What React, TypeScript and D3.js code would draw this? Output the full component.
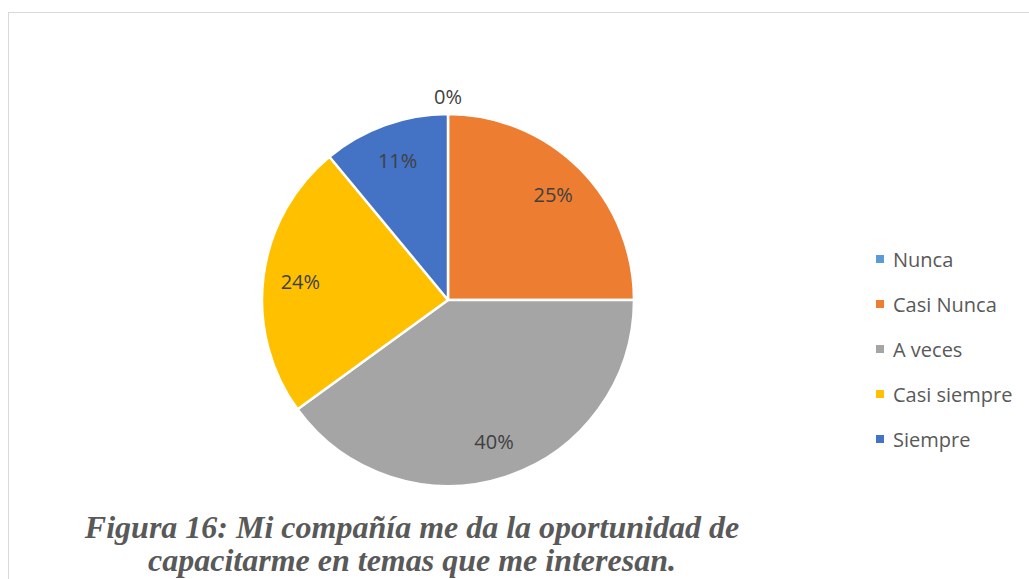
import React from "react";
import * as d3 from "d3";

const categories = ["Nunca", "Casi Nunca", "A veces", "Casi siempre", "Siempre"];
const values = [0, 25, 40, 24, 11];
const labels = ["0%", "25%", "40%", "24%", "11%"];
const colors = ["#5B9BD5", "#ED7D31", "#A5A5A5", "#FFC000", "#4472C4"];
const titleLines = [
  "Figura 16: Mi compañía me da la oportunidad de",
  "capacitarme en temas que me interesan.",
];

export default function App() {
  const W = 1029, H = 579;
  const cx = 448, cy = 300, R = 186;
  const pie = d3.pie<number>().sort(null).value((d) => d)(values);
  const arc = d3.arc<d3.PieArcDatum<number>>().innerRadius(0).outerRadius(R);
  const labelArc = d3.arc<d3.PieArcDatum<number>>().innerRadius(R * 0.8).outerRadius(R * 0.8);
  const outerArc = d3.arc<d3.PieArcDatum<number>>().innerRadius(R + 18).outerRadius(R + 18);
  const legendY = d3.scalePoint<string>().domain(categories).range([259, 439]);
  const font = "'Open Sans', Lato, sans-serif";
  return (
    <svg width={W} height={H} style={{ position: "absolute", left: 0, top: 0 }}>
      <rect x={0} y={0} width={W} height={H} fill="#fff" />
      <rect x={8.5} y={12.5} width={W + 10} height={H + 10} fill="none" stroke="#d9d9d9" strokeWidth={1} />
      <g transform={`translate(${cx},${cy})`}>
        {pie.map((p, i) => (
          <path key={i} d={arc(p) || ""} fill={colors[i]} stroke="#fff" strokeWidth={2.5} strokeLinejoin="round" />
        ))}
        {pie.map((p, i) => {
          const [x, y] = p.value === 0 ? outerArc.centroid(p) : labelArc.centroid(p);
          return (
            <text key={i} x={x} y={y} textAnchor="middle" dominantBaseline="central" fontFamily={font} fontSize={20} fill="#404040">
              {labels[i]}
            </text>
          );
        })}
      </g>
      {categories.map((c, i) => (
        <g key={c}>
          <rect x={876} y={(legendY(c) as number) - 4} width={8} height={8} fill={colors[i]} />
          <text x={893} y={legendY(c) as number} dominantBaseline="central" fontFamily={font} fontSize={20} fill="#595959">
            {c}
          </text>
        </g>
      ))}
      {titleLines.map((t, i) => (
        <text key={i} x={412} y={538 + i * 33} textAnchor="middle" fontFamily="'Liberation Serif', 'Times New Roman', serif" fontStyle="italic" fontWeight="bold" fontSize={32} fill="#595959">
          {t}
        </text>
      ))}
    </svg>
  );
}
